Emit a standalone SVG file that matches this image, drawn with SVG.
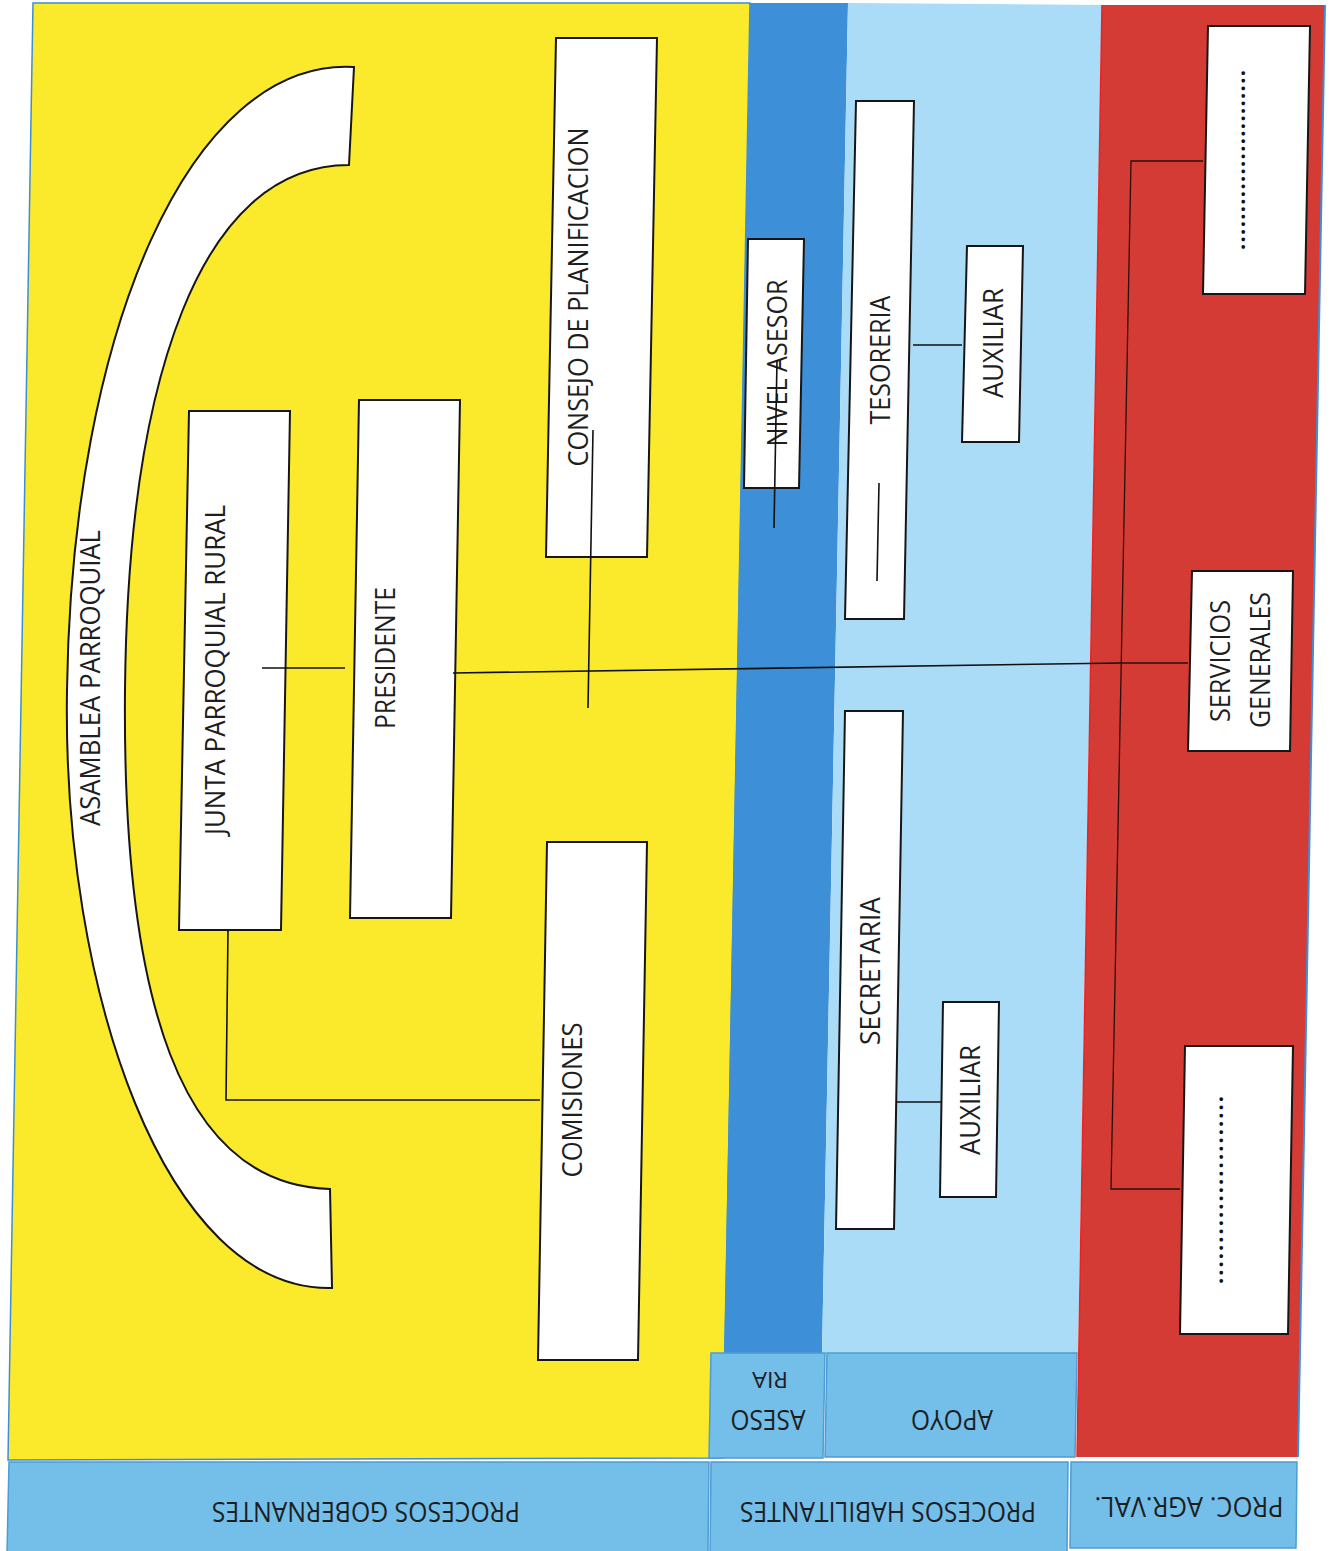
<svg xmlns="http://www.w3.org/2000/svg" width="1332" height="1551" viewBox="0 0 1332 1551">
<style>
.box{fill:#ffffff;stroke:#161616;stroke-width:2;stroke-linejoin:miter}
.lbl{font-family:"Open Sans","Noto Sans","Liberation Sans",sans-serif;font-size:28px;fill:#1e1e1e}
.dots{font-family:"Open Sans","Noto Sans","Liberation Sans",sans-serif;font-size:22px;fill:#111;font-weight:bold}
.conn{stroke:#111;stroke-width:1.6;fill:none}
.rconn{stroke:#2a0f0c;stroke-width:1.3;fill:none}
.band{fill:#74bfea;stroke:#4d9cd2;stroke-width:1.5}
</style>
<rect x="0" y="0" width="1332" height="1551" fill="#ffffff"/>
<g id="background">
  <polygon points="33,3 750,3 723,1458 8,1460" fill="#fbe92c" stroke="#3d8fd0" stroke-width="1.5"/>
  <polygon points="750,3 848,3 822,1353 724,1353" fill="#3d8fd7"/>
  <polygon points="848,3 1102,5 1078,1353 822,1353" fill="#abdcf7"/>
  <polygon points="1102,5 1325,5 1298,1457 1077,1457" fill="#d33b34"/>
  <line x1="1325" y1="5" x2="1298" y2="1457" stroke="#3d8fd7" stroke-width="2"/>
  <line x1="1102" y1="5" x2="1077" y2="1457" stroke="#f02020" stroke-width="1.5"/>
</g>
<g id="band-asesoria">
  <polygon class="band" points="711,1353 825,1353 823,1458 709,1458"/>
  <text class="lbl" transform="translate(768 1410) rotate(180)" text-anchor="middle" textLength="75" lengthAdjust="spacingAndGlyphs">ASESO</text>
  <text class="lbl" style="font-size:21px" transform="translate(770 1372) rotate(180)" text-anchor="middle" textLength="36" lengthAdjust="spacingAndGlyphs">RIA</text>
</g>
<g id="band-apoyo">
  <polygon class="band" points="827,1353 1077,1353 1075,1457 825,1457"/>
  <text class="lbl" transform="translate(952 1410) rotate(180)" text-anchor="middle" textLength="82" lengthAdjust="spacingAndGlyphs">APOYO</text>
</g>
<g id="band-gobernantes">
  <polygon class="band" points="9,1462 709,1462 708,1553 7,1553"/>
  <text class="lbl" transform="translate(366 1502) rotate(180)" text-anchor="middle" textLength="308" lengthAdjust="spacingAndGlyphs">PROCESOS GOBERNANTES</text>
</g>
<g id="band-habilitantes">
  <polygon class="band" points="711,1462 1068,1462 1067,1553 710,1553"/>
  <text class="lbl" transform="translate(888 1502) rotate(180)" text-anchor="middle" textLength="296" lengthAdjust="spacingAndGlyphs">PROCESOS HABILITANTES</text>
</g>
<g id="band-agregadores">
  <polygon class="band" points="1071,1462 1297,1462 1296,1548 1070,1548"/>
  <text class="lbl" transform="translate(1189 1497) rotate(180)" text-anchor="middle" textLength="189" lengthAdjust="spacingAndGlyphs">PROC. AGR.VAL.</text>
</g>
<g id="asamblea">
  <path class="box" d="M354,67 C190,58 72,330 67,690 C62,990 165,1292 332,1288 L330,1189 C180,1185 122,1000 125,690 C128,380 200,165 349,165 Z"/>
  <text class="lbl" transform="translate(100 678) rotate(-90)" text-anchor="middle" textLength="296" lengthAdjust="spacingAndGlyphs">ASAMBLEA PARROQUIAL</text>
</g>
<g id="junta">
  <polygon class="box" points="189,411 290,411 281,930 179,930"/>
  <text class="lbl" transform="translate(225 670) rotate(-90)" text-anchor="middle" textLength="330" lengthAdjust="spacingAndGlyphs">JUNTA PARROQUIAL RURAL</text>
</g>
<g id="presidente">
  <polygon class="box" points="359,400 460,400 451,918 350,918"/>
  <text class="lbl" transform="translate(395 658) rotate(-90)" text-anchor="middle" textLength="142" lengthAdjust="spacingAndGlyphs">PRESIDENTE</text>
</g>
<g id="consejo">
  <polygon class="box" points="556,38 657,38 647,557 546,557"/>
  <text class="lbl" transform="translate(588 297) rotate(-90)" text-anchor="middle" textLength="339" lengthAdjust="spacingAndGlyphs">CONSEJO DE PLANIFICACION</text>
</g>
<g id="comisiones">
  <polygon class="box" points="547,842 647,842 638,1360 538,1360"/>
  <text class="lbl" transform="translate(582 1100) rotate(-90)" text-anchor="middle" textLength="155" lengthAdjust="spacingAndGlyphs">COMISIONES</text>
</g>
<g id="nivel-asesor">
  <polygon class="box" points="748,239 804,239 799,488 744,488"/>
  <text class="lbl" transform="translate(787 363) rotate(-90)" text-anchor="middle" textLength="167" lengthAdjust="spacingAndGlyphs">NIVEL ASESOR</text>
</g>
<g id="tesoreria">
  <polygon class="box" points="856,101 914,101 904,619 845,619"/>
  <text class="lbl" transform="translate(890 360) rotate(-90)" text-anchor="middle" textLength="129" lengthAdjust="spacingAndGlyphs">TESORERIA</text>
</g>
<g id="auxiliar-tesoreria">
  <polygon class="box" points="967,246 1023,246 1019,442 962,442"/>
  <text class="lbl" transform="translate(1003 343) rotate(-90)" text-anchor="middle" textLength="110" lengthAdjust="spacingAndGlyphs">AUXILIAR</text>
</g>
<g id="secretaria">
  <polygon class="box" points="845,711 903,711 894,1229 836,1229"/>
  <text class="lbl" transform="translate(880 971) rotate(-90)" text-anchor="middle" textLength="148" lengthAdjust="spacingAndGlyphs">SECRETARIA</text>
</g>
<g id="auxiliar-secretaria">
  <polygon class="box" points="943,1002 999,1002 996,1197 940,1197"/>
  <text class="lbl" transform="translate(980 1100) rotate(-90)" text-anchor="middle" textLength="110" lengthAdjust="spacingAndGlyphs">AUXILIAR</text>
</g>
<g id="agregador-1">
  <polygon class="box" points="1208,26 1310,26 1305,294 1203,294"/>
  <text class="dots" transform="translate(1245 160) rotate(-90)" text-anchor="middle" textLength="180" lengthAdjust="spacing">........................</text>
</g>
<g id="servicios-generales">
  <polygon class="box" points="1192,571 1293,571 1290,751 1188,751"/>
  <text class="lbl" transform="translate(1230 661) rotate(-90)" text-anchor="middle" textLength="122" lengthAdjust="spacingAndGlyphs">SERVICIOS</text>
  <text class="lbl" transform="translate(1270 660) rotate(-90)" text-anchor="middle" textLength="136" lengthAdjust="spacingAndGlyphs">GENERALES</text>
</g>
<g id="agregador-2">
  <polygon class="box" points="1185,1046 1293,1046 1288,1334 1180,1334"/>
  <text class="dots" transform="translate(1223 1190) rotate(-90)" text-anchor="middle" textLength="188" lengthAdjust="spacing">.......................</text>
</g>
<g id="connectors">
  <line class="conn" x1="262" y1="668" x2="345" y2="668"/>
  <line class="conn" x1="453" y1="673" x2="1121" y2="663"/>
  <line class="conn" x1="593" y1="430" x2="588" y2="708"/>
  <polyline class="conn" points="228,930 226,1100 540,1100"/>
  <line class="conn" x1="777" y1="360" x2="774" y2="528"/>
  <line class="conn" x1="913" y1="345" x2="962" y2="345"/>
  <line class="conn" x1="879" y1="483" x2="877" y2="581"/>
  <line class="conn" x1="896" y1="1102" x2="942" y2="1102"/>
  <polyline class="rconn" points="1203,161 1131,161 1111,1189 1180,1189"/>
  <line class="rconn" x1="1121" y1="663" x2="1188" y2="663"/>
</g>
</svg>
